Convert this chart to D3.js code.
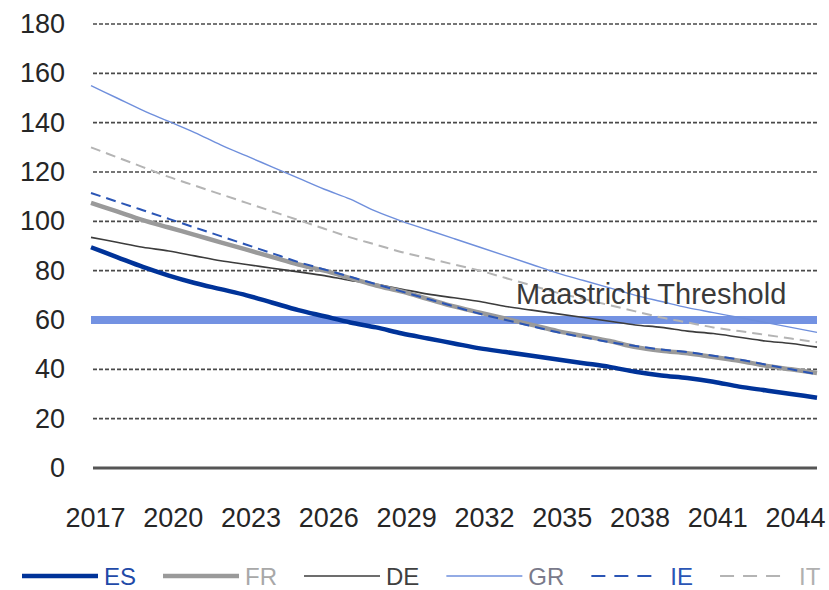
<!DOCTYPE html>
<html>
<head>
<meta charset="utf-8">
<script src="https://cdnjs.cloudflare.com/ajax/libs/d3/7.8.5/d3.min.js"></script>
<style>
    body { margin: 0; background: #fff; }
    text { font-family: "Liberation Sans", Arial, sans-serif; }
</style>
</head>
<body>
<div id="graph"></div>
<script>
var years = d3.range( 2017, 2046 );
var tickYears = [ 2017, 2020, 2023, 2026, 2029, 2032, 2035, 2038, 2041, 2044 ];
var yTicks = [ 0, 20, 40, 60, 80, 100, 120, 140, 160, 180 ];
var threshold = 60;
var thresholdLabel = 'Maastricht Threshold';

var countries = [ 'ES', 'FR', 'DE', 'GR', 'IE', 'IT' ];
var es = [ 89.5, 85.5, 81.5, 78, 75, 72.5, 70, 67, 64, 61.5, 59, 57, 54.5, 52.5, 50.5, 48.5, 47, 45.5, 44, 42.5, 41, 39, 37.5, 36.5, 35, 33, 31.5, 30, 28.5 ];
var fr = [ 107.5, 104, 100.5, 97.5, 94.5, 91.5, 88.5, 85.5, 82.5, 80, 77, 74, 71.5, 68.5, 65.5, 63, 60.5, 58, 55.5, 53.5, 51.5, 49, 47.5, 46.5, 45, 43.5, 41.5, 40, 38.5 ];
var de = [ 93.5, 91.5, 89.5, 88, 86, 84, 82.5, 81, 79.5, 78, 76, 74.5, 72.5, 70.5, 69, 67.5, 65.5, 64, 62.5, 61, 59.5, 58, 57, 55.5, 54.5, 53, 51.5, 50.5, 49 ];
var gr = [ 155, 150, 145, 140.5, 136, 131, 126.5, 122, 117.5, 113, 109, 104, 100, 96.5, 93, 89.5, 86, 82.5, 79, 76, 73, 70, 67.5, 65, 63, 61, 59, 57, 55 ];
var ie = [ 111.5, 108, 104.5, 101, 97.5, 94, 90.5, 87, 83.5, 80.5, 77.5, 74.5, 71.5, 68.5, 65.5, 62.5, 60, 57.5, 55, 53, 51, 49.5, 48, 47, 45.5, 44, 42, 40, 38 ];
var it = [ 130, 126, 122, 118, 114.5, 111, 107.5, 104, 100.5, 97, 93.5, 90.5, 87.5, 85, 82.5, 80, 77, 74, 71, 68.5, 66, 63.5, 61, 59, 57, 55.5, 54, 52.5, 51 ];

var seriesValues = [ es, fr, de, gr, ie, it ];
var seriesStyle = [
    { color: '#003399', width: 4.5, dash: null, text: '#1f4aa8' },
    { color: '#9a9a9a', width: 4.5, dash: null, text: '#a8a8a8' },
    { color: '#3c3c3c', width: 1.6, dash: null, text: '#404040' },
    { color: '#6f8fdc', width: 1.4, dash: null, text: '#7a7a8a' },
    { color: '#2a55b5', width: 2, dash: '10,6', text: '#2a55b5' },
    { color: '#b4b4b4', width: 2, dash: '10,6', text: '#b0b0b0' }
];

var width = 829;
var height = 590;

var svg = d3.select( '#graph' ).append( 'svg' )
    .attr( 'width', width )
    .attr( 'height', height );

var x = d3.scaleLinear().domain( [ 2017, 2045 ] ).range( [ 91, 817 ] );
var y = d3.scaleLinear().domain( [ 0, 180 ] ).range( [ 468, 24 ] );

drawGrid( svg, x, y );
drawThreshold( svg, x, y );
drawLines( svg, x, y );
drawAxes( svg, x, y );
drawLegend( svg );

function drawGrid( svg, x, y ) {
    var group = svg.append( 'g' );

    // dashed gridlines, solid line at zero
    group.selectAll( 'line.grid' )
        .data( yTicks.filter( function( d ) { return d > 0; }) )
        .enter().append( 'line' )
        .attr( 'class', 'grid' )
        .attr( 'x1', x( 2017 ) + 2 )
        .attr( 'x2', x( 2045 ) )
        .attr( 'y1', function( d ) { return y( d ); })
        .attr( 'y2', function( d ) { return y( d ); })
        .attr( 'stroke', '#4a4a4a' )
        .attr( 'stroke-width', 1.6 )
        .attr( 'stroke-dasharray', '4,2' );

    group.append( 'line' )
        .attr( 'x1', x( 2017 ) + 2 )
        .attr( 'x2', x( 2045 ) )
        .attr( 'y1', y( 0 ) )
        .attr( 'y2', y( 0 ) )
        .attr( 'stroke', '#555' )
        .attr( 'stroke-width', 3 );
}

function drawThreshold( svg, x, y ) {
    svg.append( 'line' )
        .attr( 'x1', x( 2017 ) )
        .attr( 'x2', x( 2045 ) )
        .attr( 'y1', y( threshold ) )
        .attr( 'y2', y( threshold ) )
        .attr( 'stroke', '#7392e2' )
        .attr( 'stroke-width', 8 );
}

function drawLines( svg, x, y ) {
    var line = d3.line()
        .x( function( d, i ) { return x( years[ i ] ); })
        .y( function( d ) { return y( d ); })
        .curve( d3.curveMonotoneX );

    // draw back to front so ES ends up on top
    var order = [ 5, 3, 2, 1, 4, 0 ];
    order.forEach( function( k ) {
        var s = seriesStyle[ k ];
        svg.append( 'path' )
            .datum( seriesValues[ k ] )
            .attr( 'd', line )
            .attr( 'fill', 'none' )
            .attr( 'stroke', s.color )
            .attr( 'stroke-width', s.width )
            .attr( 'stroke-dasharray', s.dash );
    });

    svg.append( 'text' )
        .attr( 'x', x( 2041 ) + 73 )
        .attr( 'y', y( threshold ) - 16 )
        .attr( 'text-anchor', 'end' )
        .attr( 'font-size', 29 )
        .attr( 'fill', '#3a3a3a' )
        .text( thresholdLabel );
}

function drawAxes( svg, x, y ) {
    var xAxis = svg.append( 'g' )
        .attr( 'transform', 'translate(0,' + 505 + ')' )
        .call( d3.axisBottom( x ).tickValues( tickYears ).tickFormat( d3.format( 'd' ) ).tickSize( 0 ) );
    xAxis.select( '.domain' ).remove();
    xAxis.selectAll( 'text' )
        .attr( 'font-size', 27 )
        .attr( 'font-family', '"Liberation Sans", Arial, sans-serif' )
        .attr( 'fill', '#262626' )
        .attr( 'dx', 4 );

    var yAxis = svg.append( 'g' )
        .attr( 'transform', 'translate(' + 68 + ',0)' )
        .call( d3.axisLeft( y ).tickValues( yTicks ).tickSize( 0 ) );
    yAxis.select( '.domain' ).remove();
    yAxis.selectAll( 'text' )
        .attr( 'font-size', 27 )
        .attr( 'font-family', '"Liberation Sans", Arial, sans-serif' )
        .attr( 'fill', '#262626' );
}

function drawLegend( svg ) {
    var legend = svg.append( 'g' ).attr( 'transform', 'translate(0,' + 576 + ')' );
    var cx = 22;

    countries.forEach( function( name, k ) {
        var s = seriesStyle[ k ];
        var len = s.dash ? 64 : 76;
        var gap = s.dash ? 15 : 6;
        legend.append( 'line' )
            .attr( 'x1', cx )
            .attr( 'x2', cx + len )
            .attr( 'stroke', s.color )
            .attr( 'stroke-width', Math.max( s.width, 1.5 ) )
            .attr( 'stroke-dasharray', s.dash ? '14,9' : null );
        var t = legend.append( 'text' )
            .attr( 'x', cx + len + gap )
            .attr( 'dy', '0.36em' )
            .attr( 'font-size', 24 )
            .attr( 'fill', s.text )
            .text( name );
        cx = cx + len + gap + t.node().getComputedTextLength() + 27;
    });
}
</script>
</body>
</html>
